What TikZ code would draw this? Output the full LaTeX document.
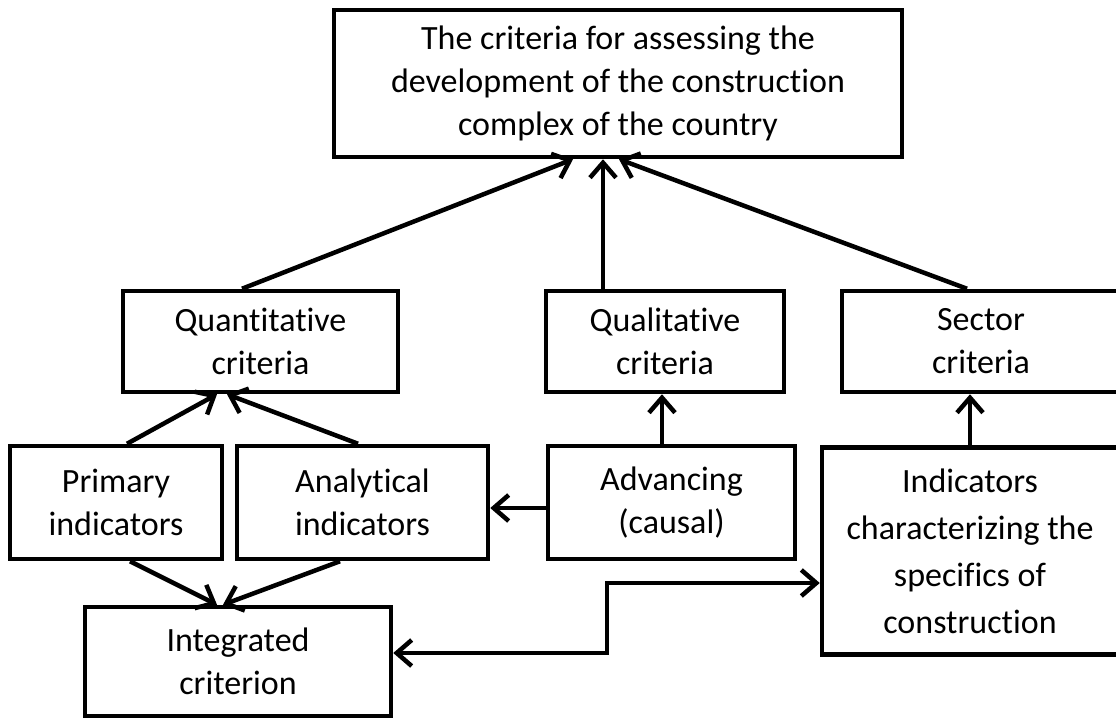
\documentclass[tikz,border=0pt]{standalone}
\usepackage{fontspec}
\setmainfont{Carlito}[Ligatures=NoCommon]
\usetikzlibrary{arrows.meta}
\begin{document}
\begin{tikzpicture}[x=1pt,y=-1pt,
  box/.style={draw, line width=4.5pt, inner sep=0pt, align=center,
    font=\fontsize{34}{43}\selectfont},
  arr/.style={line width=4.5pt, -{Straight Barb[length=15pt,width=26pt]}},
  darr/.style={line width=4.5pt, {Straight Barb[length=15pt,width=26pt]}-{Straight Barb[length=15pt,width=26pt]}},
]
\useasboundingbox (0,0) rectangle (1116,723);
\clip (0,0) rectangle (1116,723);
\node[box, minimum width=568pt, minimum height=147pt] (top) at (618,83.5)
  {The criteria for assessing the\\development of the construction\\complex of the country};
\node[box, minimum width=275pt, minimum height=101pt] (quant) at (260.5,341.5) {Quantitative\\criteria};
\node[box, minimum width=238pt, minimum height=101pt] (qual) at (665,341.5) {Qualitative\\criteria};
\node[box, minimum width=278pt, minimum height=101pt] (sector) at (981,341.5) {Sector\\criteria};
\node[box, minimum width=212pt, minimum height=113pt] (prim) at (116,502.5) {Primary\\indicators};
\node[box, minimum width=251pt, minimum height=113pt] (anal) at (362.5,502.5) {Analytical\\indicators};
\node[box, minimum width=247pt, minimum height=113pt] (adv) at (671.5,502.5) {Advancing\\(causal)};
\node[box, minimum width=296pt, minimum height=207pt, font=\fontsize{34}{47}\selectfont] (ind) at (970,551)
  {Indicators\\characterizing the\\specifics of\\construction};
\node[box, minimum width=306pt, minimum height=109pt] (integ) at (238,661.5) {Integrated\\criterion};

\draw[arr] ([xshift=-18.5pt]quant.north) -- ([xshift=-45pt]top.south);
\draw[arr] ([xshift=-62pt]qual.north) -- ([xshift=-15pt]top.south);
\draw[arr] ([xshift=-14pt]sector.north) -- ([xshift=1pt]top.south);
\draw[arr] ([xshift=11pt]prim.north) -- ([xshift=-43.5pt]quant.south);
\draw[arr] ([xshift=-4.5pt]anal.north) -- ([xshift=-33.5pt]quant.south);
\draw[arr] ([xshift=14pt]prim.south) -- ([xshift=-21pt]integ.north);
\draw[arr] ([xshift=-22.5pt]anal.south) -- ([xshift=-15pt]integ.north);
\draw[arr] ([yshift=-5.5pt]adv.west) -- ([yshift=-5.5pt]anal.east);
\draw[arr] ([xshift=-9.5pt]adv.north) -- ([xshift=-3pt]qual.south);
\draw[arr] (ind.north) -- ([xshift=-11pt]sector.south);
\coordinate (e1) at (607,653);
\coordinate (e2) at (607,583);
\draw[darr] ([yshift=8.5pt]integ.east) -- (e1) -- (e2) -- ([yshift=-32pt]ind.west);
\end{tikzpicture}
\end{document}
